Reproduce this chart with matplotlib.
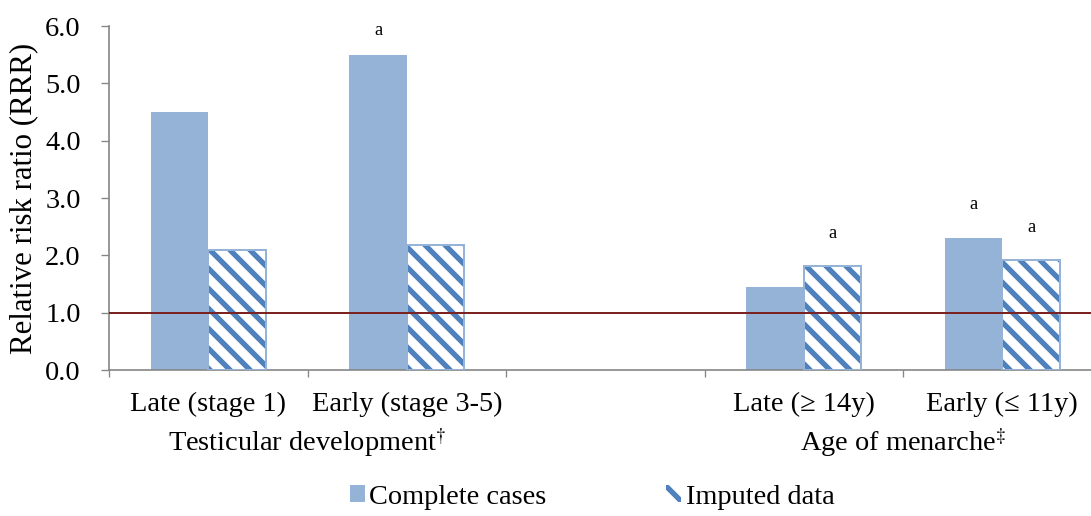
import numpy as np
import matplotlib.pyplot as plt
from matplotlib.patches import Patch

plt.rcParams['font.family'] = ['Liberation Serif', 'DejaVu Serif']
plt.rcParams['mathtext.fontset'] = 'stix'
plt.rcParams['hatch.linewidth'] = 3.2

# data
categories = ["Late (stage 1)", "Early (stage 3-5)", "", "Late (\u2265 14y)", "Early (\u2264 11y)"]
complete_cases = [4.5, 5.5, np.nan, 1.45, 2.31]
imputed_data = [2.09, 2.18, np.nan, 1.81, 1.92]
complete_marks = ["", "a", "", "", "a"]
imputed_marks = ["", "", "", "a", "a"]
groups = [r"Testicular development$^{\dagger}$", r"Age of menarche$^{\ddagger}$"]
group_pos = [0.5, 3.5]

solid_col = "#95b3d7"
hatch_col = "#4f81bd"
line_col = "#7b2323"
axis_col = "#868686"
fs = 17

fig = plt.figure(figsize=(1091 / 120, 516 / 120), dpi=120)
ax = fig.add_axes([109 / 1091, 146 / 516, 992.5 / 1091, 344 / 516])

x = np.arange(len(categories))
w = 0.29

ax.bar(x - w / 2, complete_cases, w, color=solid_col, linewidth=0, zorder=2)
# hatched bars: stripes in darker blue, outline in light blue
ax.bar(x + w / 2, imputed_data, w, facecolor="white", edgecolor=hatch_col,
       hatch="\\\\", linewidth=0, zorder=2)
ax.bar(x + w / 2, imputed_data, w, fill=False, edgecolor=solid_col,
       linewidth=1.2, zorder=3)

# significance marks
for i in range(len(categories)):
    if complete_marks[i]:
        ax.text(x[i] - w / 2, min(complete_cases[i] + 0.42, 5.78), complete_marks[i],
                ha="center", va="bottom", fontsize=11, clip_on=False)
    if imputed_marks[i]:
        ax.text(x[i] + w / 2, min(imputed_data[i] + 0.42, 5.78), imputed_marks[i],
                ha="center", va="bottom", fontsize=11, clip_on=False)

ax.axhline(1.0, color=line_col, linewidth=1.2, zorder=4)

ax.set_xlim(-0.5, 4.5)
ax.set_ylim(0, 6)
ax.set_yticks(np.arange(0, 6.1, 1.0))
ax.set_yticklabels(["%.1f" % v for v in np.arange(0, 6.1, 1.0)], fontsize=fs)
ax.set_ylabel("Relative risk ratio (RRR)", fontsize=fs + 1.5, labelpad=4)

ax.set_xticks(np.arange(-0.5, 4.6, 1.0))
ax.set_xticklabels([])
ax.set_xticks(x, minor=True)
ax.set_xticklabels(categories, minor=True, fontsize=fs)
ax.tick_params(axis="x", which="minor", length=0, pad=13)
ax.tick_params(axis="x", which="major", length=4, color=axis_col)
ax.tick_params(axis="y", length=5, color=axis_col, pad=12)

for s in ["top", "right"]:
    ax.spines[s].set_visible(False)
for s in ["left", "bottom"]:
    ax.spines[s].set_color(axis_col)
    ax.spines[s].set_linewidth(1.0)

for g, p in zip(groups, group_pos):
    ax.text(p, -0.21, g, transform=ax.get_xaxis_transform(),
            ha="center", va="center", fontsize=fs)

handles = [Patch(facecolor=solid_col, edgecolor=solid_col, linewidth=0),
           Patch(facecolor="white", edgecolor=hatch_col, hatch="\\\\", linewidth=0)]
leg = fig.legend(handles, ["Complete cases", "Imputed data"], loc="center",
                 bbox_to_anchor=(592 / 1091, 1 - 497 / 516), ncol=2, frameon=False,
                 fontsize=fs, handlelength=0.55, handleheight=0.55,
                 handletextpad=0.15, columnspacing=4.2)

fig.savefig("out.png", dpi=120)
